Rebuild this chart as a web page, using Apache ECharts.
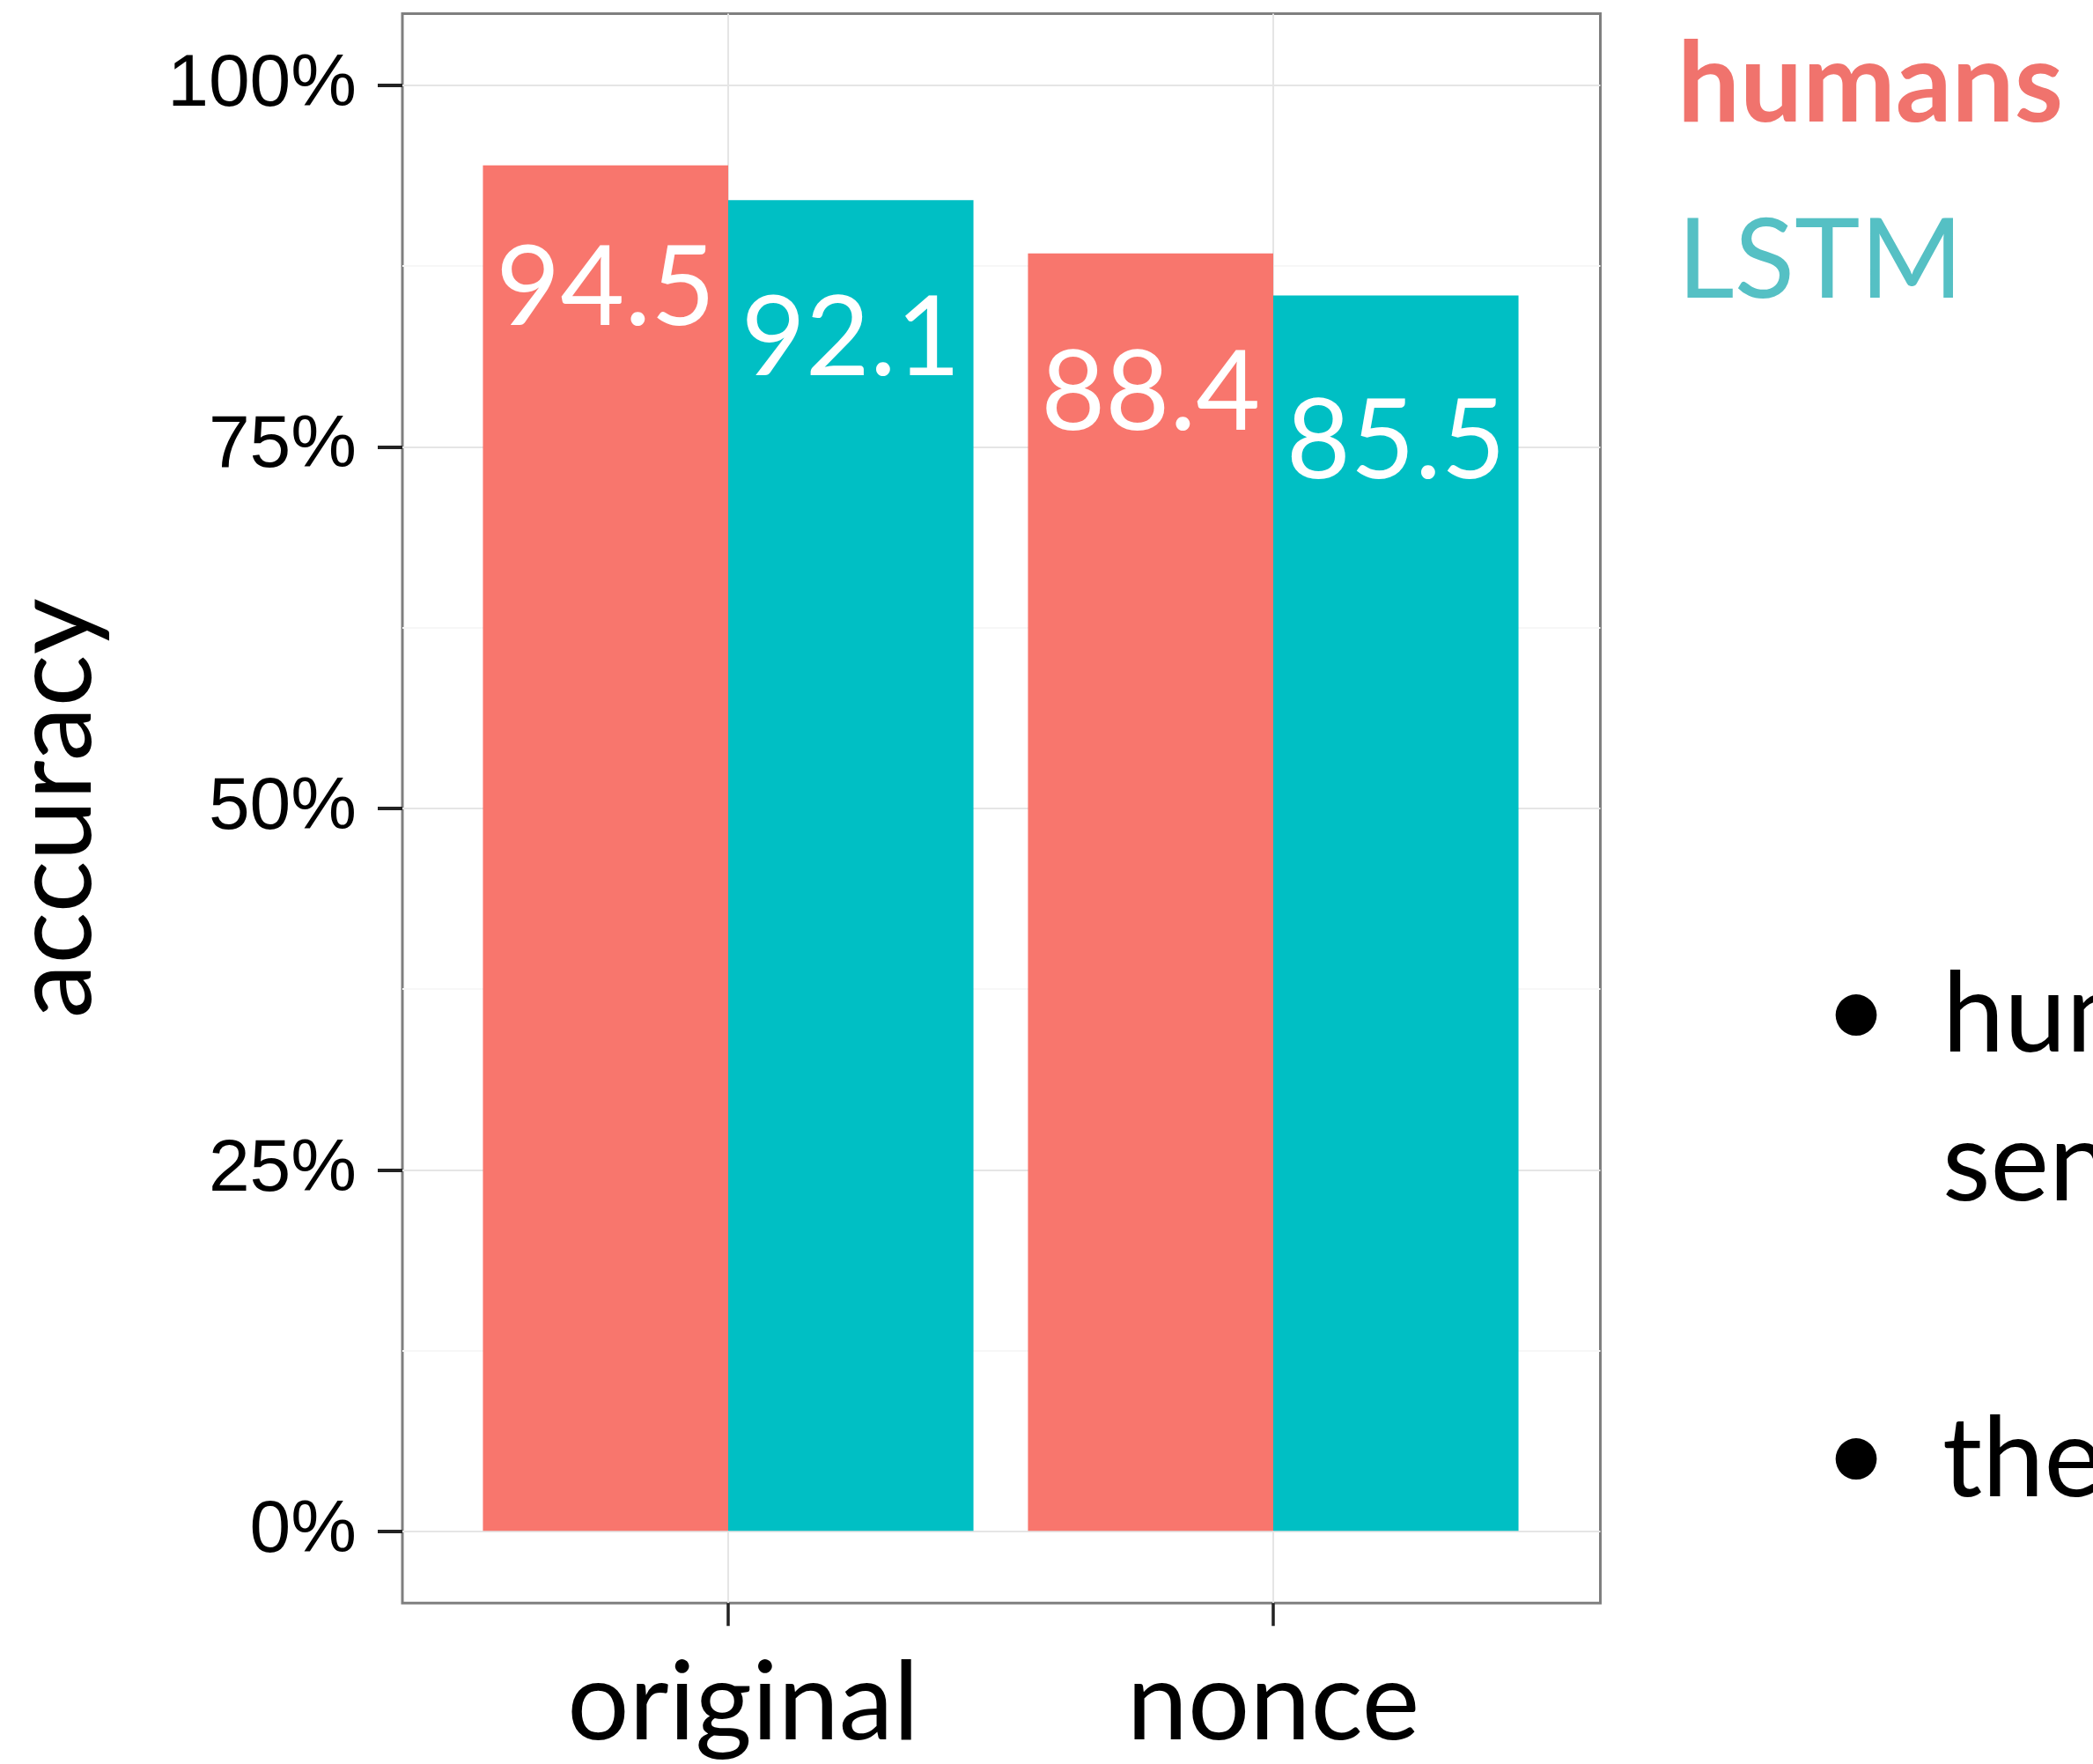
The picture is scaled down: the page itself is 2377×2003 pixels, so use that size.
<!DOCTYPE html>
<html>
<head>
<meta charset="utf-8">
<script src="https://cdn.jsdelivr.net/npm/echarts@6/dist/echarts.min.js"></script>
<style>
  html, body { margin: 0; padding: 0; background: #ffffff; }
  #chart { width: 2377px; height: 2003px; }
</style>
</head>
<body>
<div id="chart"></div>
<script>
// Accuracy (%) per sentence type
const categories = ['original', 'nonce'];
const groupNames = ['humans', 'LSTM'];
const humansAccuracy = [94.5, 88.4];
const lstmAccuracy = [92.1, 85.5];
const yTickValues = [0, 25, 50, 75, 100];

// Bullet points beside the chart
const bulletItems = [
  ['humans and the model', 'sentences of both types'],
  ['the model']
];

// Look & feel
const FONT_TEXT = 'Lato, "Open Sans", "Noto Sans", sans-serif';
const FONT_TICK = '"Liberation Sans", Arial, Helvetica, sans-serif';
const COLORS = { humans: '#F8766D', LSTM: '#00BFC4' };
const LEGEND_COLORS = { humans: '#F0736D', LSTM: '#55C0C4' };
// how far each value label sits below its bar top
const labelDrop = { humans: [78, 96], LSTM: [95, 104] };
// left padding of each category label
const catLabelPad = { original: 34, nonce: 0 };

// panel geometry (px)
const PANEL = { left: 457, top: 15.5, right: 1817.5, bottom: 1820.3 };
const Y0 = 1739, Y100 = 96.7;      // where 0% and 100% sit
const CAT0 = 827, CAT1 = 1446;     // centres of the two categories

const chart = echarts.init(document.getElementById('chart'), null, { renderer: 'canvas' });

function barSeries(name, values) {
  return {
    name: name,
    type: 'bar',
    xAxisIndex: 2,
    yAxisIndex: 2,
    barWidth: '45%',
    barGap: '0%',
    clip: false,
    itemStyle: { color: COLORS[name] },
    data: values.map((v, i) => ({
      value: v,
      label: { distance: labelDrop[name][i] }
    })),
    label: {
      show: true,
      position: 'insideTop',
      color: '#ffffff',
      fontFamily: FONT_TEXT,
      fontWeight: 400,
      fontSize: 126,
      formatter: p => p.value.toFixed(1)
    }
  };
}

const graphics = [];
const bulletRows = [[1153.7, 1322], [1658]];
const bulletDots = [1149, 1653];
bulletItems.forEach((lines, k) => {
  graphics.push({
    type: 'text', x: 2108, y: bulletDots[k],
    style: { text: '\u2022', fill: '#000', font: '126px ' + FONT_TEXT, align: 'center', verticalAlign: 'middle' }
  });
  lines.forEach((t, j) => {
    graphics.push({
      type: 'text', x: 2206, y: bulletRows[k][j],
      style: { text: t, fill: '#000', font: '126px ' + FONT_TEXT, align: 'left', verticalAlign: 'middle' }
    });
  });
});

const catRich = {};
categories.forEach(c => {
  catRich[c] = { color: '#000', fontFamily: FONT_TEXT, fontSize: 124, padding: [0, 0, 0, catLabelPad[c]] };
});

const option = {
  animation: false,
  backgroundColor: '#ffffff',
  grid: [
    { // panel frame
      left: PANEL.left, top: PANEL.top,
      width: PANEL.right - PANEL.left, height: PANEL.bottom - PANEL.top,
      show: true, borderColor: '#7F7F7F', borderWidth: 3, backgroundColor: 'transparent',
      outerBoundsMode: 'none', containLabel: false
    },
    { // percentage scale
      left: PANEL.left, top: Y100,
      width: PANEL.right - PANEL.left, height: Y0 - Y100,
      outerBoundsMode: 'none', containLabel: false
    },
    { // bars, one category per tick
      left: CAT0, top: PANEL.top,
      width: CAT1 - CAT0, height: PANEL.bottom - PANEL.top,
      outerBoundsMode: 'none', containLabel: false
    }
  ],
  xAxis: [
    { type: 'value', gridIndex: 0, show: false, min: 0, max: 1 },
    { type: 'value', gridIndex: 1, show: false, min: 0, max: 1 },
    {
      type: 'category', gridIndex: 2, data: categories, boundaryGap: false,
      position: 'bottom',
      axisLine: { show: false, onZero: false },
      axisTick: { show: true, interval: 0, length: 26, lineStyle: { color: '#222', width: 3.5 } },
      axisLabel: {
        show: true, interval: 0, hideOverlap: false,
        margin: 53, color: '#000', fontFamily: FONT_TEXT, fontSize: 124,
        formatter: v => '{' + v + '|' + v + '}',
        rich: catRich
      },
      splitLine: { show: true, interval: 0, lineStyle: { color: '#E5E5E5', width: 2 } }
    }
  ],
  yAxis: [
    { type: 'value', gridIndex: 0, show: false, min: 0, max: 1 },
    {
      type: 'value', gridIndex: 1,
      min: yTickValues[0], max: yTickValues[yTickValues.length - 1],
      interval: yTickValues[1] - yTickValues[0],
      name: 'accuracy', nameLocation: 'middle', nameRotate: 90, nameGap: 332,
      nameTextStyle: { color: '#000', fontFamily: FONT_TEXT, fontSize: 124 },
      axisLine: { show: false, onZero: false },
      axisTick: { show: true, length: 28, lineStyle: { color: '#222', width: 4 } },
      axisLabel: { show: true, margin: 52, color: '#000', fontFamily: FONT_TICK, fontSize: 84,
                   formatter: v => v + '%' },
      splitLine: { show: true, lineStyle: { color: '#E5E5E5', width: 2 } },
      minorTick: { show: false, splitNumber: 2 },
      minorSplitLine: { show: true, lineStyle: { color: '#F7F7F7', width: 2 } }
    },
    { type: 'value', gridIndex: 2, show: false, min: -5, max: 105 }
  ],
  legend: {
    orient: 'vertical',
    left: 1895, top: 17,
    icon: 'none', itemWidth: 0, itemHeight: 10, itemGap: 50,
    selectedMode: false,
    textStyle: { fontFamily: FONT_TEXT, fontSize: 126, lineHeight: 150 },
    data: [
      { name: 'humans', textStyle: { color: LEGEND_COLORS.humans, fontWeight: 'bold' } },
      { name: 'LSTM', textStyle: { color: LEGEND_COLORS.LSTM, fontWeight: 'normal' } }
    ]
  },
  graphic: graphics,
  series: [
    barSeries('humans', humansAccuracy),
    barSeries('LSTM', lstmAccuracy)
  ]
};

chart.setOption(option);
</script>
</body>
</html>
